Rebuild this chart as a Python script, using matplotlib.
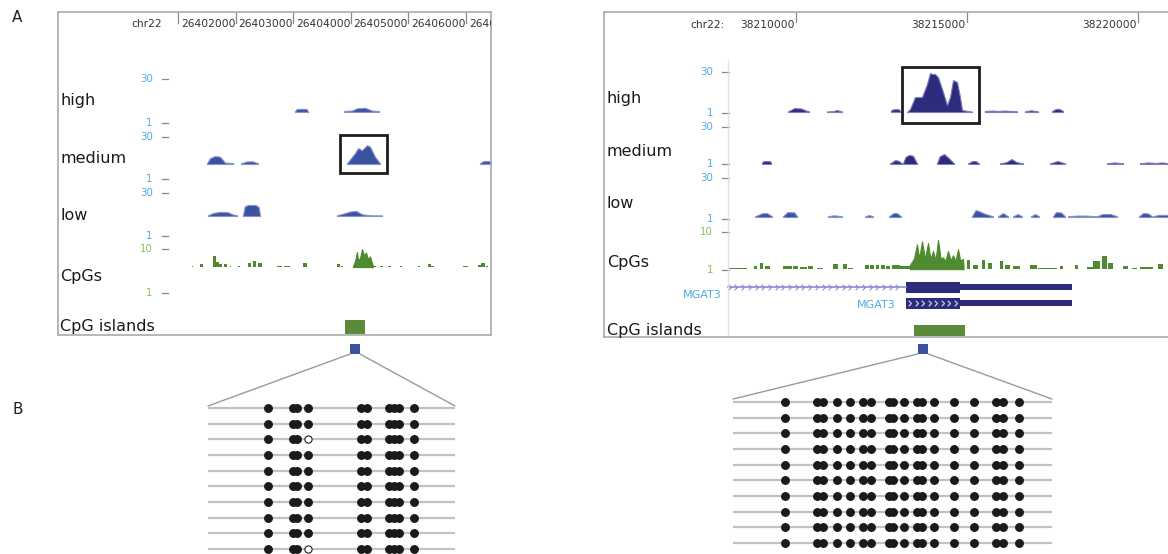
import numpy as np
import matplotlib
matplotlib.use('Agg')
import matplotlib.pyplot as plt
from matplotlib.patches import Rectangle, ConnectionPatch

W, H = 1168, 554

# ---------------- data: left browser, chr22:26,402,000 ----------------
left_ref = 26402000
left_ticks = [0, 1000, 2000, 3000, 4000, 5000]          # bp offsets from left_ref
# peaks: (bp offsets, height above track floor)
left_high = [
    ([2031, 2060, 2230, 2257], [0.3, 2.0, 2.0, 0.3]),
    ([2882, 3020, 3110, 3250, 3368, 3489], [0.6, 0.9, 2.4, 2.7, 0.9, 0.6]),
]
left_medium = [
    ([503, 556, 642, 729, 816, 955], [0.5, 4.0, 5.5, 5.0, 1.0, 0.6]),
    ([1094, 1200, 1300, 1389], [0.5, 1.8, 1.8, 0.5]),
    ([2934, 3003, 3073, 3125, 3194, 3281, 3333, 3420, 3507], [0.5, 4, 7.5, 11, 9.5, 13, 12, 5, 0.5]),
    ([5243, 5300, 5434], [0.5, 2.0, 2.0]),
]
left_low = [
    ([521, 608, 729, 868, 955, 1024], [0.5, 2.0, 2.8, 2.5, 1.0, 0.5]),
    ([1128, 1160, 1215, 1350, 1400, 1424], [0.5, 6.5, 7.4, 7.4, 6.0, 0.5]),
    ([2760, 2864, 2986, 3090, 3194, 3264, 3368, 3541], [0.5, 1.5, 3.0, 3.4, 1.2, 0.8, 0.4, 0.4]),
]
left_cpg_bars = [(243, 260, 0.2), (382, 434, 0.6), (608, 660, 2.25), (660, 712, 1.0), (712, 764, 0.6),
                 (799, 851, 0.6), (903, 920, 0.2), (1042, 1076, 0.2), (1215, 1267, 0.8), (1302, 1354, 1.2),
                 (1389, 1458, 0.8), (1719, 1805, 0.2), (1840, 1944, 0.2), (2170, 2239, 0.8), (2760, 2812, 0.6),
                 (2830, 2864, 0.2), (3403, 3437, 0.2), (3507, 3559, 0.2), (3646, 3698, 0.2), (3854, 3889, 0.2),
                 (4166, 4201, 0.2), (4340, 4392, 0.6), (4392, 4444, 0.2), (4948, 5034, 0.2), (5208, 5260, 0.4),
                 (5260, 5330, 0.8), (5347, 5382, 0.2)]
left_cpg_peak = ([3038, 3073, 3107, 3125, 3160, 3194, 3229, 3264, 3298, 3333, 3385],
                 [0.2, 1.2, 3.1, 1.5, 1.8, 3.7, 2.4, 3.0, 1.6, 2.2, 0.2])
left_island = (2899, 3246)
left_highlight = (2812, 3628)
left_amplicon = (2986, 3160)

# ---------------- data: right browser, chr22:38,210,000 ----------------
right_ref = 38210000
right_ticks = [0, 5000, 10000]
right_high = [
    ([-234, -150, -50, 150, 300, 380], [0.5, 1.5, 2.8, 2.5, 1.0, 0.5]),
    ([906, 1100, 1180, 1345], [0.4, 0.6, 1.4, 0.4]),
    ([2778, 2850, 3000, 3041], [1.2, 2.0, 2.0, 0.8]),
    ([3246, 3333, 3480, 3684, 3830, 3918, 3976, 4064, 4152, 4298, 4415, 4503, 4591, 4708, 4795, 4854, 5146],
     [0, 2.1, 10.6, 10.6, 19.8, 27.6, 26.9, 26.9, 24.7, 14.1, 4.9, 10.6, 22.6, 21.2, 10.6, 1.4, 0.3]),
    ([5526, 5760, 5900, 6100, 6462], [0.7, 1.0, 0.7, 1.0, 0.5]),
    ([6696, 6871, 7076], [0.5, 1.2, 0.5]),
    ([7485, 7600, 7700, 7807], [0.7, 2.2, 2.2, 0.7]),
]
right_medium = [
    ([-994, -950, -770, -731], [1.2, 2.3, 2.3, 1.2]),
    ([2749, 2900, 3000, 3099], [0.5, 3.1, 2.5, 0.5]),
    ([3129, 3200, 3300, 3420, 3538], [0.5, 5.5, 7.1, 6.5, 0.5]),
    ([4123, 4200, 4330, 4450, 4620], [0.5, 6.0, 7.8, 5.0, 0.5]),
    ([5029, 5150, 5250, 5351], [0.5, 2.3, 2.3, 0.5]),
    ([5965, 6150, 6300, 6450, 6637], [0.5, 1.5, 3.9, 1.5, 0.5]),
    ([7427, 7650, 7866], [0.5, 2.3, 0.5]),
    ([9094, 9300, 9561], [0.6, 1.2, 0.6]),
    ([10059, 10300, 10500, 10700, 10878], [0.6, 1.2, 0.8, 1.2, 0.6]),
]
right_low = [
    ([-1199, -1000, -850, -702], [0.5, 2.6, 2.8, 0.5]),
    ([-380, -250, -50, 29], [0.5, 3.5, 3.3, 0.5]),
    ([935, 1100, 1345], [0.5, 1.2, 0.5]),
    ([2018, 2130, 2251], [0.5, 1.4, 0.5]),
    ([2719, 2850, 2950, 3070], [0.5, 2.8, 2.8, 0.5]),
    ([5146, 5250, 5350, 5500, 5760], [0.5, 4.9, 4.2, 2.5, 0.5]),
    ([5906, 6050, 6199], [0.5, 2.8, 0.5]),
    ([6345, 6480, 6608], [0.5, 2.1, 0.5]),
    ([6871, 6990, 7105], [0.5, 2.1, 0.5]),
    ([7515, 7600, 7750, 7866], [0.5, 3.5, 3.2, 0.5]),
    ([7953, 8200, 8500, 8801], [0.5, 1.0, 1.0, 0.5]),
    ([8801, 8950, 9200, 9386], [0.5, 2.1, 2.1, 0.5]),
    ([10029, 10150, 10300, 10410], [0.5, 2.8, 2.5, 0.5]),
    ([10439, 10600, 10878], [0.5, 1.5, 1.5]),
]
right_cpg_bars = [(-1988, -1433, 0.24), (-1228, -1140, 0.71), (-1053, -965, 1.4), (-906, -760, 0.71),
                  (-380, -117, 0.71), (-88, 58, 0.71), (117, 322, 0.47), (351, 497, 0.71), (614, 789, 0.24),
                  (1082, 1228, 1.2), (1374, 1491, 1.2), (1520, 1667, 0.24), (2018, 2120, 0.95),
                  (2170, 2280, 0.95), (2330, 2440, 0.95), (2490, 2600, 0.95), (2630, 2749, 0.7),
                  (2807, 3041, 0.95), (3041, 3333, 0.71), (5000, 5088, 2.1), (5175, 5322, 0.95),
                  (5439, 5526, 2.1), (5614, 5731, 1.4), (5965, 6053, 1.9), (6111, 6257, 0.95),
                  (6345, 6550, 0.71), (6842, 7047, 0.95), (7076, 7632, 0.24), (7720, 7807, 0.71),
                  (8158, 8246, 0.95), (8509, 8684, 0.47), (8684, 8889, 1.9), (8947, 9094, 3.1),
                  (9123, 9269, 1.4), (9561, 9708, 0.71), (9825, 9971, 0.24), (10059, 10439, 0.47),
                  (10585, 10731, 1.2)]
right_cpg_peak = ([3333, 3450, 3538, 3600, 3684, 3770, 3860, 3930, 4006, 4080, 4152, 4230, 4298, 4370,
                   4444, 4520, 4591, 4660, 4737, 4800, 4883, 4900],
                  [1.0, 2.5, 5.9, 2.5, 6.6, 2.4, 6.2, 2.4, 4.3, 2.1, 6.9, 2.4, 2.8, 1.9,
                   4.3, 2.1, 3.3, 1.9, 4.7, 2.1, 2.4, 0.3])
mgat3_intron = (-1988, 3216)
mgat3_utr = (3216, 4795)
mgat3_cds = (4795, 8070)
right_island = (3450, 4942)
right_highlight = (3099, 5351)
right_amplicon = (3567, 3860)

# ---------------- data: bisulfite clones ----------------
left_cpg_pos = [60, 85, 89, 100, 153, 159, 181, 186, 191, 206]
left_meth = ["1111111111", "1111111111", "1110111111", "1111111111", "1111111111",
             "1111111111", "1111111111", "1111111111", "1111111111", "1110111111"]
right_cpg_pos = [52, 84, 90, 104, 117, 130, 138, 156, 160, 171, 184, 189, 201, 221, 241, 263, 270, 286]
right_meth = ["1" * 18] * 10

# ---------------- styling ----------------
plt.rcParams['font.family'] = ['DejaVu Sans']
LBLUE = '#3b52a3'
NAVY = '#2d2b7c'
GREEN = '#4e8a2f'
SCALE_BLUE = '#4ea9e3'
SCALE_GREEN = '#86c35a'

fig = plt.figure(figsize=(W / 100, H / 100), dpi=100)


def px_axes(x0, y0, x1, y1):
    return fig.add_axes([x0 / W, 1 - y1 / H, (x1 - x0) / W, (y1 - y0) / H])


def track(x0, x1, y0, y1, ref, lo, hi, ymax):
    ax = px_axes(x0, y0, x1, y1)
    ax.set_xlim(ref + lo, ref + hi)
    ax.set_ylim(1, ymax)
    ax.axis('off')
    return ax


def draw_peaks(ax, ref, peaks, floor, color, edge):
    for xs, hs in peaks:
        xs = ref + np.array(xs)
        ys = floor + np.array(hs)
        ax.fill_between(xs, floor, ys, color=color, lw=0.8, edgecolor=edge)


def scale_labels(ax, num_right, dash0, dash1, top, color):
    tr = ax.get_yaxis_transform()
    for v in (top, 1):
        ax.text(num_right, v, str(v), transform=tr, ha='right', va='center',
                fontsize=7.4, color=color, clip_on=False)
        ax.plot([dash0, dash1], [v, v], transform=tr, color='#8a8a8a', lw=0.9, clip_on=False)


def browser_box(x0, y0, x1, y1, ref, lo, hi):
    ax = px_axes(x0, y0, x1, y1)
    ax.set_xlim(ref + lo, ref + hi)
    ax.set_ylim(0, 1)
    ax.set_xticks([])
    ax.set_yticks([])
    ax.set_facecolor('none')
    for s in ax.spines.values():
        s.set_color('#a5abab')
        s.set_linewidth(1.2)
    return ax


# ================= left browser =================
L0, L1 = 58, 491
llo, lhi = -2083, 5434
ax = track(L0, L1, 79, 123, left_ref, llo, lhi, 30)
draw_peaks(ax, left_ref, left_high, 8.3, LBLUE, '#8592cc')
scale_labels(ax, 0.219, 0.240, 0.254, 30, SCALE_BLUE)
ax = track(L0, L1, 137, 179, left_ref, llo, lhi, 30)
draw_peaks(ax, left_ref, left_medium, 11.35, LBLUE, '#8592cc')
scale_labels(ax, 0.219, 0.240, 0.254, 30, SCALE_BLUE)
ax = track(L0, L1, 193, 236, left_ref, llo, lhi, 30)
draw_peaks(ax, left_ref, left_low, 14.5, LBLUE, '#8592cc')
scale_labels(ax, 0.219, 0.240, 0.254, 30, SCALE_BLUE)
ax = track(L0, L1, 249, 293, left_ref, llo, lhi, 10)
for s, e, h in left_cpg_bars:
    ax.bar(left_ref + s, h, width=e - s, bottom=6.3, align='edge', color=GREEN, lw=0)
draw_peaks(ax, left_ref, [left_cpg_peak], 6.3, GREEN, GREEN)
scale_labels(ax, 0.219, 0.240, 0.254, 10, SCALE_GREEN)

lb = browser_box(L0, 12, L1, 335, left_ref, llo, lhi)
xt = lb.get_xaxis_transform()
for t in left_ticks:
    lb.plot([left_ref + t] * 2, [1, 0.966], transform=xt, color='#8a8a8a', lw=0.9)
    lb.text(left_ref + t + 50, 0.963, str(left_ref + t), transform=xt, fontsize=7.7,
            color='#333333', va='center', ha='left', clip_on=True)
lb.text(0.241, 0.963, 'chr22', transform=lb.transAxes, fontsize=7.7, color='#333333',
        va='center', ha='right')
lb.add_patch(Rectangle((left_ref + left_highlight[0], 0.502), left_highlight[1] - left_highlight[0], 0.117,
                       transform=xt, fill=False, ec='#1e1e1e', lw=2))
lb.add_patch(Rectangle((left_ref + left_island[0], 0.003), left_island[1] - left_island[0], 0.043,
                       transform=xt, color='#5a8a3a', lw=0))
lb.add_patch(Rectangle((left_ref + left_amplicon[0], -0.059), left_amplicon[1] - left_amplicon[0], 0.031,
                       transform=xt, color=LBLUE, lw=0, clip_on=False))

for name, y in [('high', 100), ('medium', 158), ('low', 216), ('CpGs', 276), ('CpG islands', 326)]:
    fig.text(60 / W, 1 - y / H, name, fontsize=11.5, color='#1a1a1a', va='center')

# ================= right browser =================
R0, R1 = 604, 1172
rlo, rhi = -5614, 10994
ax = track(R0, R1, 72, 113, right_ref, rlo, rhi, 30)
draw_peaks(ax, right_ref, right_high, 1.7, NAVY, '#7d7cc0')
scale_labels(ax, 0.192, 0.208, 0.220, 30, SCALE_BLUE)
ax = track(R0, R1, 127, 164, right_ref, rlo, rhi, 30)
draw_peaks(ax, right_ref, right_medium, 1.0, NAVY, '#7d7cc0')
scale_labels(ax, 0.192, 0.208, 0.220, 30, SCALE_BLUE)
ax = track(R0, R1, 178, 219, right_ref, rlo, rhi, 30)
draw_peaks(ax, right_ref, right_low, 2.4, LBLUE, '#8592cc')
scale_labels(ax, 0.192, 0.208, 0.220, 30, SCALE_BLUE)
ax = track(R0, R1, 232, 270, right_ref, rlo, rhi, 10)
for s, e, h in right_cpg_bars:
    ax.bar(right_ref + s, h, width=e - s, bottom=1.2, align='edge', color=GREEN, lw=0)
draw_peaks(ax, right_ref, [right_cpg_peak], 1.2, GREEN, GREEN)
scale_labels(ax, 0.192, 0.208, 0.220, 10, SCALE_GREEN)

# gene track
ga = px_axes(R0, 280, R1, 312)
ga.set_xlim(right_ref + rlo, right_ref + rhi)
ga.set_ylim(0, 2)
ga.axis('off')
ga.plot([right_ref + mgat3_intron[0], right_ref + mgat3_intron[1]], [1.55, 1.55], color='#8c8ad0', lw=1.2)
chev = right_ref + np.arange(mgat3_intron[0] + 80, mgat3_intron[1] - 60, 196)
ga.plot(chev, [1.55] * len(chev), ls='none', marker=[(-1, 1), (0, 0), (-1, -1)], ms=4,
        mfc='none', mec='#8c8ad0', mew=0.8)
for row in (1.55, 0.55):
    ga.barh(row, mgat3_utr[1] - mgat3_utr[0], left=right_ref + mgat3_utr[0], height=0.68, color=NAVY)
    ga.barh(row, mgat3_cds[1] - mgat3_cds[0], left=right_ref + mgat3_cds[0], height=0.36, color=NAVY)
chev2 = right_ref + np.arange(mgat3_utr[0] + 150, mgat3_utr[1] - 60, 190)
ga.plot(chev2, [0.55] * len(chev2), ls='none', marker=[(-1, 1), (0, 0), (-1, -1)], ms=4,
        mfc='none', mec='#c8c8ea', mew=0.9)
ga.text(right_ref + mgat3_intron[0] - 200, 1.05, 'MGAT3', fontsize=8, color=SCALE_BLUE, ha='right', va='center')
ga.text(right_ref + mgat3_utr[0] - 300, 0.45, 'MGAT3', fontsize=8, color=SCALE_BLUE, ha='right', va='center')

rb = browser_box(R0, 12, R1, 337, right_ref, rlo, rhi)
xt = rb.get_xaxis_transform()
rb.plot([right_ref + mgat3_intron[0]] * 2, [0.005, 0.85], transform=xt, color='#e2e2e2', lw=1)
for t in right_ticks:
    rb.plot([right_ref + t] * 2, [1, 0.97], transform=xt, color='#8a8a8a', lw=0.9)
    rb.text(right_ref + t - 30, 0.96, str(right_ref + t), transform=xt, fontsize=7.7,
            color='#333333', va='center', ha='right', clip_on=True)
rb.text(0.213, 0.96, 'chr22:', transform=rb.transAxes, fontsize=7.7, color='#333333',
        va='center', ha='right')
rb.add_patch(Rectangle((right_ref + right_highlight[0], 0.658), right_highlight[1] - right_highlight[0], 0.173,
                       transform=xt, fill=False, ec='#1e1e1e', lw=2))
rb.add_patch(Rectangle((right_ref + right_island[0], 0.003), right_island[1] - right_island[0], 0.034,
                       transform=xt, color='#5a8a3a', lw=0))
rb.add_patch(Rectangle((right_ref + right_amplicon[0], -0.052), right_amplicon[1] - right_amplicon[0], 0.031,
                       transform=xt, color=LBLUE, lw=0, clip_on=False))

for name, y in [('high', 98), ('medium', 152), ('low', 203), ('CpGs', 263), ('CpG islands', 331)]:
    fig.text(607 / W, 1 - y / H, name, fontsize=11.5, color='#1a1a1a', va='center')


# ================= bisulfite clones =================
def clones(x0, x1, y_first, step, pos, meth, span):
    top = y_first - 0.5 * step
    ax = px_axes(x0, top, x1, top + 10 * step)
    ax.set_xlim(0, span)
    ax.set_ylim(10.5, 0.5)
    ax.axis('off')
    rows = np.arange(1, len(meth) + 1)
    ax.hlines(rows, 0, span, color='#c2c2c2', lw=1.6)
    for r, m in zip(rows, meth):
        for p, s in zip(pos, m):
            if s == '1':
                ax.plot(p, r, 'o', ms=5.4, color='#1a1a1a', clip_on=False)
            else:
                ax.plot(p, r, 'o', ms=5.2, mfc='white', mec='#1a1a1a', mew=0.8, clip_on=False)
    return ax


lm = clones(208, 455, 408, 15.67, left_cpg_pos, left_meth, 247)
rm = clones(733, 1052, 402, 15.67, right_cpg_pos, right_meth, 319)

for box, ref, amp, yb, meth_ax, span, yrow in [(lb, left_ref, left_amplicon, -0.059, lm, 247, 0.87),
                                               (rb, right_ref, right_amplicon, -0.052, rm, 319, 0.81)]:
    for a, b in [(amp[0], 0), (amp[1], span)]:
        con = ConnectionPatch(xyA=(ref + a, yb), coordsA=box.get_xaxis_transform(),
                              xyB=(b, yrow), coordsB=meth_ax.transData, color='#9a9a9a', lw=1)
        fig.add_artist(con)

fig.text(12 / W, 1 - 18 / H, 'A', fontsize=11, color='#222222', va='center')
fig.text(12 / W, 1 - 410 / H, 'B', fontsize=11, color='#222222', va='center')

fig.savefig('out.png', dpi=100)
